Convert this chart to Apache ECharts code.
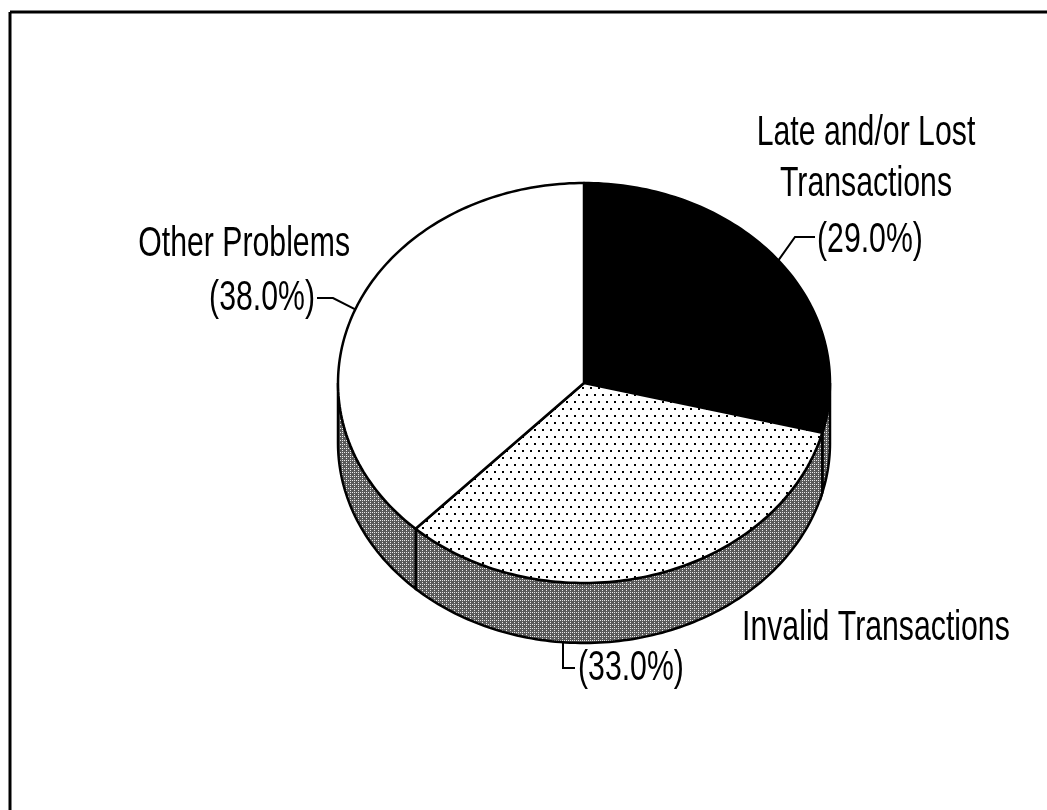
<!DOCTYPE html>
<html>
<head>
<meta charset="utf-8">
<script src="https://cdn.jsdelivr.net/npm/echarts@6/dist/echarts.min.js"></script>
<style>
  html, body { margin: 0; padding: 0; background: #fff; }
  #main { width: 1047px; height: 810px; }
</style>
</head>
<body>
<div id="main"></div>
<script>
// data
var categories = ['Late and/or Lost Transactions', 'Invalid Transactions', 'Other Problems'];
var values = [29.0, 33.0, 38.0];
var labelLines = [['Late and/or Lost', 'Transactions'], ['Invalid Transactions'], ['Other Problems']];

// pie geometry (pixels)
var G = { cx: 584, cy: 383, rx: 246, ry: 200, depth: 60 };
var FONT = "'Liberation Sans', Arial, sans-serif";
var SX = 0.72;

var total = values.reduce(function (a, b) { return a + b; }, 0);

function makePattern(w, h, bg, fg, dots) {
  var c = document.createElement('canvas');
  c.width = w; c.height = h;
  var ctx = c.getContext('2d');
  ctx.fillStyle = bg;
  ctx.fillRect(0, 0, w, h);
  ctx.fillStyle = fg;
  dots.forEach(function (d) { ctx.fillRect(d[0], d[1], d[2] || 2, d[2] || 2); });
  return { image: c, repeat: 'repeat' };
}

var dotFill = makePattern(16, 14, '#fff', '#000', [[2, 2], [10, 2], [6, 9], [14, 9]]);
var sideFill = makePattern(4, 4, '#5a5a5a', '#e8e8e8', [[0, 0, 1], [2, 2, 1], [2, 0, 1]]);
var topFills = ['#000', dotFill, '#fff'];

// leader lines (after the point on the rim) and label anchors
var leaders = [
  { side: false, pts: [[795, 237], [815, 237]] },
  { side: true, pts: [[563, 668], [575, 668]] },
  { side: false, pts: [[333, 298], [317, 298]] }
];
var labelPos = [
  { x: 866, y: 133, align: 'center', pct: [817, 240, 'left'] },
  { x: 742, y: 628, align: 'left', pct: [578, 668, 'left'] },
  { x: 350, y: 244, align: 'right', pct: [315, 298, 'right'] }
];

function rim(a, dy) {
  return [G.cx + G.rx * Math.sin(a), G.cy - G.ry * Math.cos(a) + (dy || 0)];
}

function arcPts(a0, a1, dy) {
  var n = Math.max(2, Math.ceil(Math.abs(a1 - a0) / 0.02));
  var out = [];
  for (var k = 0; k <= n; k++) out.push(rim(a0 + (a1 - a0) * k / n, dy));
  return out;
}

function renderItem(params, api) {
  var i = params.dataIndex;
  var before = 0;
  for (var k = 0; k < i; k++) before += values[k];
  var a0 = before / total * Math.PI * 2;
  var a1 = (before + api.value(0)) / total * Math.PI * 2;
  var children = [];

  // visible side wall (front half of the pie)
  var s = Math.max(a0, Math.PI / 2), e = Math.min(a1, Math.PI * 1.5);
  if (e > s) {
    var sp = arcPts(s, e, 0).concat(arcPts(e, s, G.depth));
    children.push({
      type: 'polygon', shape: { points: sp },
      style: { fill: sideFill, stroke: '#000', lineWidth: 2.5 }
    });
  }

  // top face
  var tp = [[G.cx, G.cy]].concat(arcPts(a0, a1, 0));
  children.push({
    type: 'polygon', shape: { points: tp },
    style: { fill: topFills[i], stroke: '#000', lineWidth: 2.5, lineJoin: 'round' }
  });

  // leader line
  var L = leaders[i];
  var start;
  if (L.side) {
    var u = (L.pts[0][0] - G.cx) / G.rx;
    start = [L.pts[0][0], G.cy + G.depth + G.ry * Math.sqrt(Math.max(0, 1 - u * u))];
  } else {
    start = rim((a0 + a1) / 2, 0);
  }
  children.push({
    type: 'polyline', shape: { points: [start].concat(L.pts) },
    style: { stroke: '#000', lineWidth: 2, fill: null }
  });

  return { type: 'group', children: children };
}

var graphics = [
  { type: 'line', shape: { x1: 10, y1: 12, x2: 1047, y2: 12 }, style: { stroke: '#000', lineWidth: 3 } },
  { type: 'line', shape: { x1: 10, y1: 12, x2: 10, y2: 810 }, style: { stroke: '#000', lineWidth: 3 } }
];
labelPos.forEach(function (p, i) {
  // p.y is the centre of the first line
  graphics.push({
    type: 'text', x: p.x, y: p.y - 25, scaleX: SX,
    style: {
      text: labelLines[i].join('\n'), font: '42px ' + FONT, fill: '#000',
      textAlign: p.align, textVerticalAlign: 'top', lineHeight: 51
    }
  });
  graphics.push({
    type: 'text', x: p.pct[0], y: p.pct[1], scaleX: SX,
    style: {
      text: '(' + values[i].toFixed(1) + '%)', font: '42px ' + FONT, fill: '#000',
      textAlign: p.pct[2], textVerticalAlign: 'middle'
    }
  });
});

var chart = echarts.init(document.getElementById('main'), null, { renderer: 'canvas' });
chart.setOption({
  backgroundColor: '#fff',
  animation: false,
  graphic: graphics,
  series: [{
    type: 'custom',
    coordinateSystem: 'none',
    renderItem: renderItem,
    data: values.map(function (v, i) { return { name: categories[i], value: [v] }; })
  }]
});
</script>
</body>
</html>
